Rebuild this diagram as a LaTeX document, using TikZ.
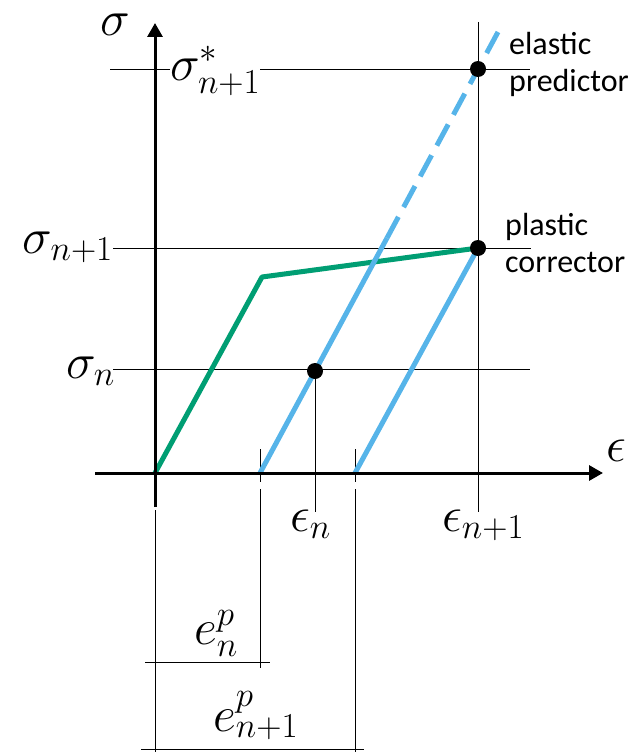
\RequirePackage{fix-cm}
\documentclass[tikz,border=0pt]{standalone}
\usepackage[no-math]{fontspec}
\newfontfamily\carlito{Carlito}
\usetikzlibrary{arrows.meta}
\definecolor{skyb}{HTML}{56B4E9}
\definecolor{bgreen}{HTML}{009E73}
\definecolor{thin}{RGB}{80,80,80}
\tikzset{
  axis/.style={line width=3pt, black},
  guide/.style={line width=1pt, thin},
  curveg/.style={line width=5pt, bgreen, line join=round},
  curveb/.style={line width=5pt, skyb},
  dotp/.style={circle, fill=black, inner sep=0pt, minimum size=16pt},
  mlab/.style={inner sep=0pt, font=\fontsize{50}{60}\selectfont},
  tlab/.style={inner sep=0pt, align=left, font=\carlito\fontsize{32}{37}\selectfont},
}
\begin{document}
\begin{tikzpicture}[x=1pt,y=-1pt]
\useasboundingbox (0,0) rectangle (630,752);
% coordinates
\coordinate (O) at (155,473);
\coordinate (ybot) at (155,507);
\coordinate (ytop) at (155,23);
\coordinate (xl) at (95,473);
\coordinate (xr) at (603,473);
\coordinate (Y) at (262,277);
\coordinate (P) at (478,248);
\coordinate (Ps) at (478,69);
\coordinate (Pn) at (315,371);
\coordinate (B1) at (260,473);
\coordinate (B1s) at (387,238);
\coordinate (B1e) at (498,32);
\coordinate (B2) at (355,473);
% horizontal guides
\draw[guide] (110,69) coordinate (hs1) -- (530,69) coordinate (hs2);
\draw[guide] (113,248) coordinate (h11) -- (531,248) coordinate (h12);
\draw[guide] (113,369) coordinate (hn1) -- (530,369) coordinate (hn2);
% vertical guides
\draw[guide] (478,22) coordinate (v1t) -- (478,512) coordinate (v1b);
\draw[guide] (Pn) -- (315,512) coordinate (vnb);
\draw[guide] (260,449) coordinate (t1a) -- (260,482) coordinate (t1b);
\draw[guide] (260,489) coordinate (d1a) -- (260,668) coordinate (d1b);
\draw[guide] (355,449) coordinate (t2a) -- (355,482) coordinate (t2b);
\draw[guide] (355,489) coordinate (d2a) -- (355,752) coordinate (d2b);
\draw[guide] (155,510) coordinate (d0a) -- (155,752) coordinate (d0b);
% dimension lines
\draw[guide] (145,662) coordinate (e1a) -- (270,662) coordinate (e1b);
\draw[guide] (141,749) coordinate (e2a) -- (364,749) coordinate (e2b);
% curves
\draw[curveg] (O) -- (Y) -- (P);
\draw[curveb] (B1) -- (B1s);
\draw[curveb, dash pattern=on 24pt off 11pt] (B1s) -- (B1e);
\draw[curveb] (B2) -- (P);
% axes
\draw[axis, -{Triangle[length=14pt,width=15pt]}] (ybot) -- (ytop);
\draw[axis, -{Triangle[length=14pt,width=15pt]}] (xl) -- (xr);
% dots
\node[dotp] (dS) at (Ps) {};
\node[dotp] (dP) at (P) {};
\node[dotp] (dN) at (Pn) {};
% labels
\node[mlab, anchor=base] (lsig) at (115,36) {$\sigma$};
\node[mlab, anchor=base west, fill=white] (lss) at (170,81) {$\sigma^*_{n+1}$};
\node[mlab, anchor=base east] (ls1) at (113,253) {$\sigma_{n+1}$};
\node[mlab, anchor=base east] (lsn) at (115,378) {$\sigma_n$};
\node[mlab, anchor=base west] (leps) at (606,461) {$\epsilon$};
\node[mlab, anchor=base west] (len) at (290,531) {$\epsilon_n$};
\node[mlab, anchor=base west] (len1) at (442,531) {$\epsilon_{n+1}$};
\node[mlab, anchor=base west] (lep) at (194,644) {$e^p_n$};
\node[mlab, anchor=base west] (lep1) at (213,731) {$e^p_{n+1}$};
\node[tlab, anchor=west] (lel) at (509,64) {elastic\\predictor};
\node[tlab, anchor=west] (lpl) at (505,243) {plastic\\corrector};
\end{tikzpicture}
\end{document}
